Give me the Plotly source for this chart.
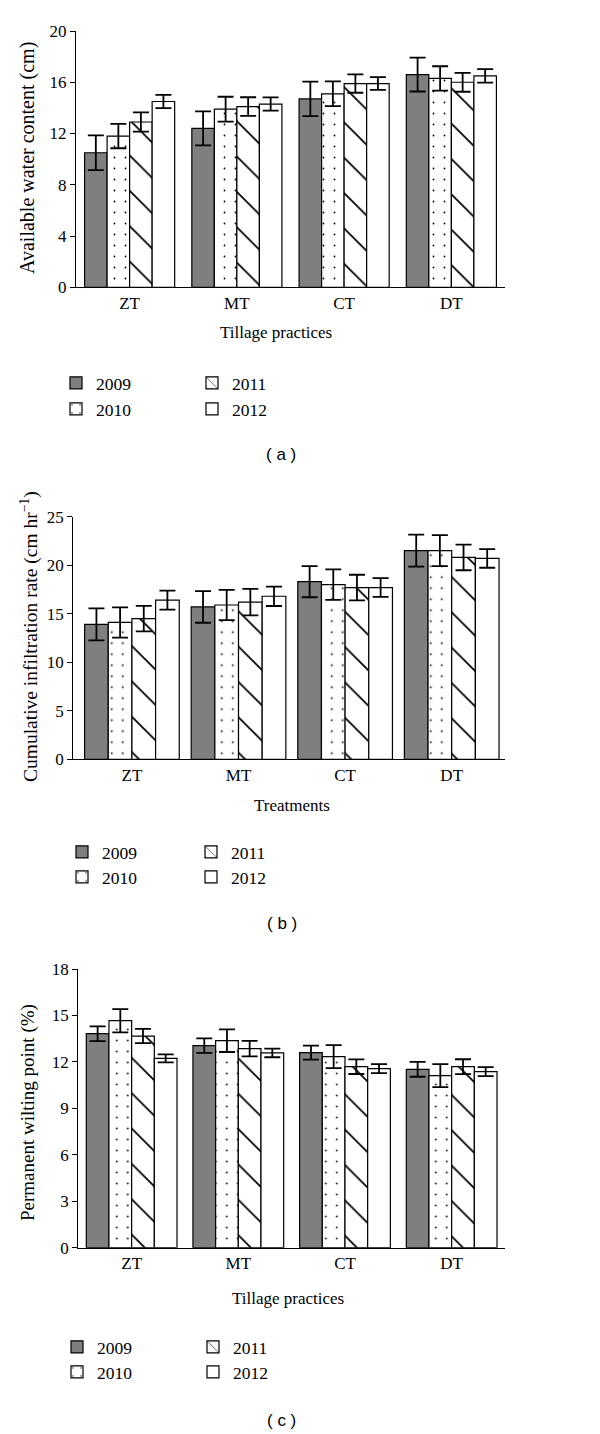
import plotly.graph_objects as go

# ---------------- data ----------------
categories = ["ZT", "MT", "CT", "DT"]
years = ["2009", "2010", "2011", "2012"]

# (a) Available water content (cm)
awc_2009 = [10.5, 12.4, 14.7, 16.6]
awc_2010 = [11.8, 13.9, 15.1, 16.3]
awc_2011 = [12.9, 14.1, 15.9, 16.0]
awc_2012 = [14.5, 14.3, 15.9, 16.5]
awc_err_2009 = [1.35, 1.33, 1.35, 1.32]
awc_err_2010 = [0.95, 0.97, 0.97, 0.95]
awc_err_2011 = [0.75, 0.73, 0.72, 0.74]
awc_err_2012 = [0.52, 0.52, 0.50, 0.53]

# (b) Cumulative infiltration rate (cm hr^-1)
cir_2009 = [13.9, 15.7, 18.3, 21.5]
cir_2010 = [14.1, 15.9, 18.0, 21.5]
cir_2011 = [14.5, 16.2, 17.7, 20.8]
cir_2012 = [16.4, 16.8, 17.7, 20.7]
cir_err_2009 = [1.65, 1.63, 1.60, 1.65]
cir_err_2010 = [1.56, 1.56, 1.58, 1.60]
cir_err_2011 = [1.32, 1.36, 1.32, 1.32]
cir_err_2012 = [0.98, 1.00, 0.96, 0.96]

# (c) Permanent wilting point (%)
pwp_2009 = [13.82, 13.05, 12.60, 11.52]
pwp_2010 = [14.66, 13.37, 12.34, 11.11]
pwp_2011 = [13.67, 12.86, 11.69, 11.69]
pwp_2012 = [12.23, 12.58, 11.56, 11.37]
pwp_err_2009 = [0.48, 0.47, 0.45, 0.48]
pwp_err_2010 = [0.75, 0.73, 0.74, 0.74]
pwp_err_2011 = [0.46, 0.50, 0.47, 0.48]
pwp_err_2012 = [0.26, 0.28, 0.29, 0.29]

# ---------------- layout helpers ----------------
OFF = 8                       # page body margin of the html page
W, H = 600 - OFF, 1434 - OFF  # figure size so it fits the window exactly
SERIF = "Liberation Serif"
SANS = "Liberation Sans"


def px_x(x):
    return (x - OFF) / W


def px_y(y):
    return 1 - (y - OFF) / H


def marker_for(i):
    base = dict(line=dict(color="black", width=1.2))
    if i == 0:
        base.update(color="#7f7f7f")
    elif i == 1:
        base.update(color="white",
                    pattern=dict(shape=".", size=11, solidity=0.02,
                                 fgcolor="black", bgcolor="white"))
    elif i == 2:
        base.update(color="white",
                    pattern=dict(shape="\\", size=25, solidity=0.07,
                                 fgcolor="black", bgcolor="white"))
    else:
        base.update(color="white")
    return base


panels = [
    dict(vals=[awc_2009, awc_2010, awc_2011, awc_2012],
         errs=[awc_err_2009, awc_err_2010, awc_err_2011, awc_err_2012],
         xpx=(76, 505), ypx=(31, 287.3), yrange=[0, 20], dtick=4,
         xrange=[-0.5, 3.5], barw=0.21,
         ytitle="Available water content (cm)", ytitle_pos=(28, 158), ytitle_size=20,
         xtitle="Tillage practices", xtitle_pos=(276, 333),
         leg_rows=(383, 409), leg_cols=(56, 192),
         label="( a )", label_pos=(281, 455)),
    dict(vals=[cir_2009, cir_2010, cir_2011, cir_2012],
         errs=[cir_err_2009, cir_err_2010, cir_err_2011, cir_err_2012],
         xpx=(73.3, 505), ypx=(516.7, 759.3), yrange=[0, 25], dtick=5,
         xrange=[-0.55, 3.5], barw=0.222,
         ytitle="Cumulative infiltration rate (cm hr<sup>−1</sup>)", ytitle_pos=(30, 637),
         ytitle_size=19.5,
         xtitle="Treatments", xtitle_pos=(292, 806),
         leg_rows=(852, 877), leg_cols=(62, 191),
         label="( b )", label_pos=(282, 923)),
    dict(vals=[pwp_2009, pwp_2010, pwp_2011, pwp_2012],
         errs=[pwp_err_2009, pwp_err_2010, pwp_err_2011, pwp_err_2012],
         xpx=(78.3, 505), ypx=(969, 1247.7), yrange=[0, 18], dtick=3,
         xrange=[-0.5, 3.5], barw=0.2126,
         ytitle="Permanent wilting point (%)", ytitle_pos=(28, 1113), ytitle_size=19,
         xtitle="Tillage practices", xtitle_pos=(288, 1298),
         leg_rows=(1347, 1372), leg_cols=(57, 193),
         label="( c )", label_pos=(281, 1420)),
]

fig = go.Figure()
layout = dict(width=W, height=H, margin=dict(l=0, r=0, t=0, b=0, pad=0, autoexpand=False),
              template="none", autosize=False,
              paper_bgcolor="white", plot_bgcolor="white",
              showlegend=True, barmode="overlay")
annotations = []
leg_idx = 0

# legend grid: column 0 -> 2009, 2010 ; column 1 -> 2011, 2012
grid_pos = {0: (0, 0), 1: (0, 1), 2: (1, 0), 3: (1, 1)}

for p_i, p in enumerate(panels):
    n = p_i + 1
    xa = "xaxis" if n == 1 else f"xaxis{n}"
    ya = "yaxis" if n == 1 else f"yaxis{n}"
    xref = "x" if n == 1 else f"x{n}"
    yref = "y" if n == 1 else f"y{n}"
    w = p["barw"]
    for i, yr in enumerate(years):
        leg_idx += 1
        legname = "legend" if leg_idx == 1 else f"legend{leg_idx}"
        fig.add_trace(go.Bar(
            x=categories, y=p["vals"][i], name=yr,
            width=w, offset=-2 * w + i * w,
            marker=marker_for(i),
            error_y=dict(type="data", array=p["errs"][i], visible=True,
                         color="black", thickness=1.8, width=8),
            xaxis=xref, yaxis=yref, legend=legname, showlegend=True,
        ))
        col, row = grid_pos[i]
        layout[legname] = dict(
            x=px_x(p["leg_cols"][col]), y=px_y(p["leg_rows"][row]),
            xanchor="left", yanchor="middle", bgcolor="rgba(0,0,0,0)",
            font=dict(family=SERIF, size=17.5, color="black"),
            borderwidth=0, itemclick=False, itemdoubleclick=False,
        )
    layout[xa] = dict(
        domain=[px_x(p["xpx"][0]), px_x(p["xpx"][1])], anchor=yref,
        range=p["xrange"], type="category", automargin=False,
        showline=True, linecolor="black", linewidth=1.2, ticks="",
        showgrid=False, zeroline=False,
        tickfont=dict(family=SERIF, size=17, color="black"),
    )
    layout[ya] = dict(
        domain=[px_y(p["ypx"][1]), px_y(p["ypx"][0])], anchor=xref,
        range=p["yrange"], dtick=p["dtick"], tick0=0, automargin=False,
        showline=True, linecolor="black", linewidth=1.2,
        ticks="outside", ticklen=5, tickcolor="black", tickwidth=1.2,
        showgrid=False, zeroline=False,
        tickfont=dict(family=SERIF, size=17, color="black"),
    )
    annotations.append(dict(
        text=p["ytitle"], x=px_x(p["ytitle_pos"][0]), y=px_y(p["ytitle_pos"][1]),
        xref="paper", yref="paper", textangle=-90, showarrow=False,
        xanchor="center", yanchor="middle",
        font=dict(family=SERIF, size=p["ytitle_size"], color="black")))
    annotations.append(dict(
        text=p["xtitle"], x=px_x(p["xtitle_pos"][0]), y=px_y(p["xtitle_pos"][1]),
        xref="paper", yref="paper", showarrow=False,
        xanchor="center", yanchor="middle",
        font=dict(family=SERIF, size=17, color="black")))
    annotations.append(dict(
        text=p["label"], x=px_x(p["label_pos"][0]), y=px_y(p["label_pos"][1]),
        xref="paper", yref="paper", showarrow=False,
        xanchor="center", yanchor="middle",
        font=dict(family=SANS, size=17, color="black")))

layout["annotations"] = annotations
fig.update_layout(**layout)
fig.write_html("out.html")
